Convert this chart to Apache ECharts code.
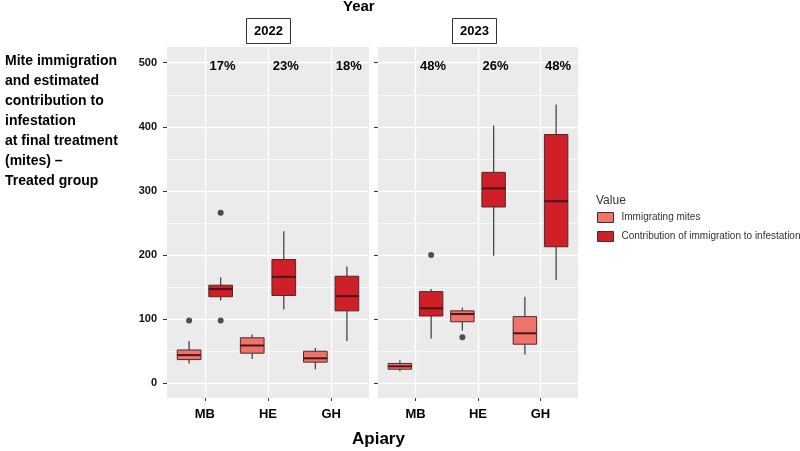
<!DOCTYPE html>
<html>
<head>
<meta charset="utf-8">
<script src="https://cdn.jsdelivr.net/npm/echarts@6/dist/echarts.min.js"></script>
<style>
html, body { margin: 0; padding: 0; background: #fff; }
#chart { width: 800px; height: 451px; }
</style>
</head>
<body>
<div id="chart"></div>
<script>
// apiaries on the x axis of each year panel
const apiaries = ['MB', 'HE', 'GH'];
const years = ['2022', '2023'];
const yTicks = [0, 100, 200, 300, 400, 500];

// box stats: [min, Q1, median, Q3, max] per apiary
const imm2022 = [[31, 37, 44, 52, 66], [38, 47, 59, 71, 76], [22, 33, 39, 50, 55]];
const contrib2022 = [[129, 135, 147, 153, 165], [115, 137, 166, 193, 237], [66, 113, 136, 167, 182]];
const imm2023 = [[19, 22, 26.5, 31, 36], [82, 96, 108, 113, 118], [45, 61, 78, 104, 135]];
const contrib2023 = [[70, 105, 117, 143, 147], [199, 275, 304, 329, 402], [161, 213, 284, 388, 435]];

// outliers: [apiary index, value]
const immOut2022 = [[0, 98]];
const contribOut2022 = [[0, 266], [0, 98]];
const immOut2023 = [[1, 72]];
const contribOut2023 = [[0, 200]];

// share of infestation from immigration
const pct2022 = ['17%', '23%', '18%'];
const pct2023 = ['48%', '26%', '48%'];
const pctY = 494;

const IMM = 'Immigrating mites';
const CON = 'Contribution of immigration to infestation';
const immColor = '#F0726C';
const conColor = '#CF1F29';
const edge = '#4a2b2b';
const font = 'Liberation Sans';

const chart = echarts.init(document.getElementById('chart'));

function xAxis(grid) {
  return {
    type: 'value', gridIndex: grid, min: 0.4, max: 3.6,
    axisLine: { show: false, onZero: false },
    axisTick: { show: true, length: 3, lineStyle: { color: '#333' }, customValues: [1, 2, 3] },
    axisLabel: {
      margin: 10, fontSize: 13, fontWeight: 'bold', color: '#000', fontFamily: font,
      customValues: [1, 2, 3],
      formatter: v => apiaries[Math.round(v) - 1] || ''
    },
    splitLine: { show: true, lineStyle: { color: '#fff', width: 1.3 } }
  };
}
function yAxis(grid, labels) {
  return {
    type: 'value', gridIndex: grid, min: -22.9, max: 524.5,
    axisLine: { show: false, onZero: false },
    axisTick: { show: true, length: 4, lineStyle: { color: '#333' }, customValues: yTicks },
    axisLabel: {
      show: labels, margin: 10, fontSize: 11, fontWeight: 'bold', color: '#111', fontFamily: font,
      customValues: yTicks
    },
    splitLine: { show: true, lineStyle: { color: '#fff', width: 1.3 } },
    minorTick: { show: false, splitNumber: 2 },
    minorSplitLine: { show: true, lineStyle: { color: '#fff', width: 0.6 } }
  };
}

// ggplot-like box: whiskers without caps, box, thick median
function renderBox(params, api) {
  const x = api.value(0);
  const lo = api.coord([x, api.value(1)]);
  const q1 = api.coord([x, api.value(2)]);
  const med = api.coord([x, api.value(3)]);
  const q3 = api.coord([x, api.value(4)]);
  const hi = api.coord([x, api.value(5)]);
  const half = api.size([0.375, 0])[0] / 2;
  const whisker = { stroke: '#474747', lineWidth: 1.3 };
  return {
    type: 'group',
    children: [
      { type: 'line', shape: { x1: lo[0], y1: lo[1], x2: q1[0], y2: q1[1] }, style: whisker },
      { type: 'line', shape: { x1: q3[0], y1: q3[1], x2: hi[0], y2: hi[1] }, style: whisker },
      { type: 'rect', shape: { x: q3[0] - half, y: q3[1], width: half * 2, height: q1[1] - q3[1] },
        style: { fill: api.visual('color'), stroke: edge, lineWidth: 1 } },
      { type: 'line', shape: { x1: med[0] - half, y1: med[1], x2: med[0] + half, y2: med[1] },
        style: { stroke: '#4a1518', lineWidth: 2 } }
    ]
  };
}

function renderPct(params, api) {
  const p = api.coord([api.value(0), api.value(1)]);
  return {
    type: 'text', x: p[0], y: p[1],
    style: {
      text: params.context.labels[params.dataIndex], fill: '#000',
      font: 'bold 13px ' + font, align: 'center', verticalAlign: 'middle'
    }
  };
}

function boxSeries(name, stats, shift, idx, color) {
  return {
    type: 'custom', name: name, xAxisIndex: idx, yAxisIndex: idx,
    renderItem: renderBox, silent: true,
    itemStyle: { color: color },
    encode: { x: 0, y: [1, 2, 3, 4, 5] },
    data: stats.map((s, i) => [i + 1 + shift].concat(s))
  };
}
function outSeries(points, shift, idx) {
  return {
    type: 'scatter', xAxisIndex: idx, yAxisIndex: idx, symbolSize: 6,
    itemStyle: { color: '#262626' }, silent: true,
    data: points.map(p => [p[0] + 1 + shift, p[1]])
  };
}
function pctSeries(labels, idx) {
  return {
    type: 'custom', xAxisIndex: idx, yAxisIndex: idx, silent: true,
    renderItem: (params, api) => {
      params.context.labels = labels;
      return renderPct(params, api);
    },
    data: labels.map((l, i) => [i + 1.28, pctY])
  };
}

const stripStyle = {
  backgroundColor: '#fff', borderColor: '#333', borderWidth: 1, padding: [5, 8],
  textStyle: { fontSize: 13, fontWeight: 'bold', color: '#000', fontFamily: font, lineHeight: 16 }
};

chart.setOption({
  animation: false,
  backgroundColor: '#fff',
  title: [
    { text: 'Year', left: 343, top: -1, padding: 0,
      textStyle: { fontSize: 15, fontWeight: 'bold', color: '#000', fontFamily: font } },
    Object.assign({ text: years[0], left: 246, top: 18 }, stripStyle),
    Object.assign({ text: years[1], left: 452, top: 18 }, stripStyle),
    { text: 'Apiary', left: 352, top: 431, padding: 0,
      textStyle: { fontSize: 17, fontWeight: 'bold', color: '#000', fontFamily: font } },
    { text: 'Mite immigration\nand estimated\ncontribution to\ninfestation\nat final treatment\n(mites) \u2013\nTreated group',
      left: 5, top: 51, padding: 0,
      textStyle: { fontSize: 14, fontWeight: 'bold', color: '#000', fontFamily: font, lineHeight: 20 } },
    { text: 'Value', left: 596, top: 195, padding: 0,
      textStyle: { fontSize: 12, fontWeight: 'normal', color: '#333', fontFamily: font } }
  ],
  legend: {
    orient: 'vertical', left: 597, top: 212, padding: 0,
    itemWidth: 16, itemHeight: 10, itemGap: 8,
    icon: 'rect',
    textStyle: { fontSize: 10, color: '#333', fontFamily: font, padding: [0, 0, 0, 3] },
    data: [
      { name: IMM, itemStyle: { color: immColor, borderColor: edge, borderWidth: 1 } },
      { name: CON, itemStyle: { color: conColor, borderColor: edge, borderWidth: 1 } }
    ]
  },
  grid: [
    { left: 167, top: 47, width: 202, height: 351, show: true, backgroundColor: '#EBEBEB', borderWidth: 0 },
    { left: 378, top: 47, width: 200, height: 351, show: true, backgroundColor: '#EBEBEB', borderWidth: 0 }
  ],
  xAxis: [xAxis(0), xAxis(1)],
  yAxis: [yAxis(0, true), yAxis(1, false)],
  series: [
    boxSeries(IMM, imm2022, -0.25, 0, immColor),
    boxSeries(CON, contrib2022, 0.25, 0, conColor),
    boxSeries(IMM, imm2023, -0.25, 1, immColor),
    boxSeries(CON, contrib2023, 0.25, 1, conColor),
    outSeries(immOut2022, -0.25, 0),
    outSeries(contribOut2022, 0.25, 0),
    outSeries(immOut2023, -0.25, 1),
    outSeries(contribOut2023, 0.25, 1),
    pctSeries(pct2022, 0),
    pctSeries(pct2023, 1)
  ]
});
</script>
</body>
</html>
